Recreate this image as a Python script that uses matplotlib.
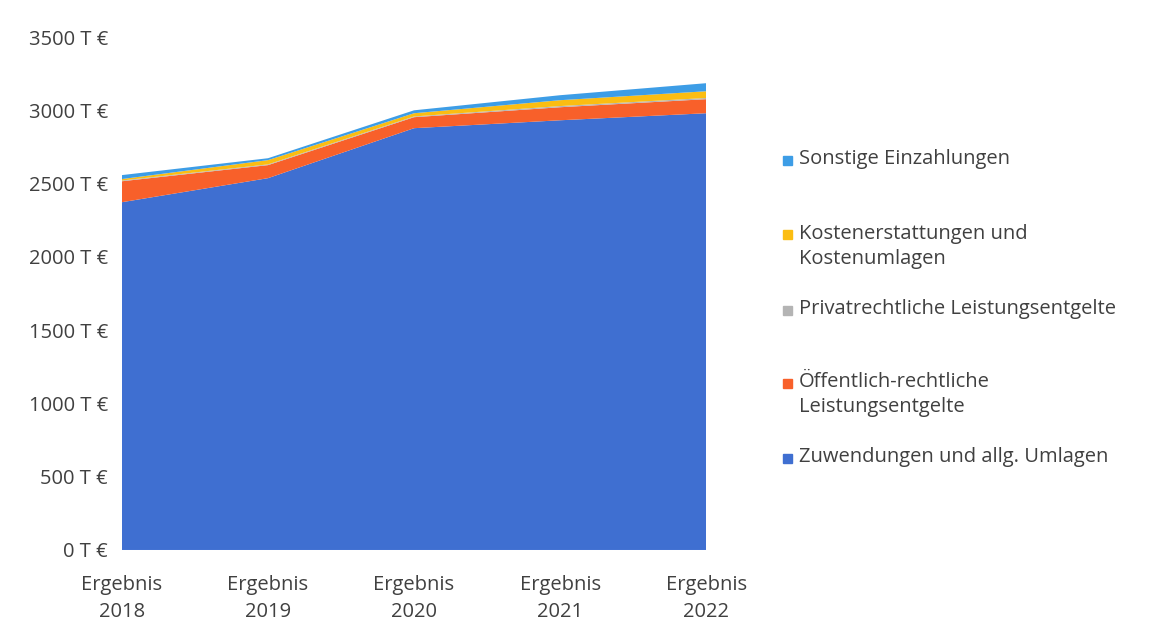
import matplotlib.pyplot as plt
from matplotlib.patches import Rectangle

plt.rcParams['font.family'] = ['Open Sans', 'DejaVu Sans']

years = ['Ergebnis\n2018', 'Ergebnis\n2019', 'Ergebnis\n2020', 'Ergebnis\n2021', 'Ergebnis\n2022']

# values in T EUR (bottom to top of the stack)
zuwendungen = [2373, 2537, 2878, 2932, 2980]
oeffentlich = [143, 89, 75, 89, 96]
privat = [5, 5, 5, 8, 8]
kosten = [10, 29, 22, 40, 46]
sonstige = [27, 13, 20, 34, 55]

labels = ['Zuwendungen und allg. Umlagen',
          'Öffentlich-rechtliche\nLeistungsentgelte',
          'Privatrechtliche Leistungsentgelte',
          'Kostenerstattungen und\nKostenumlagen',
          'Sonstige Einzahlungen']
colors = ['#3f6fd1', '#f8602a', '#b4b4b4', '#fbbd12', '#3d9de6']

yticks = [0, 500, 1000, 1500, 2000, 2500, 3000, 3500]

fig = plt.figure(figsize=(11.66, 6.44), dpi=100)
ax = fig.add_axes([0.1046, 0.146, 0.501, 0.7965])

x = list(range(len(years)))
ax.stackplot(x, zuwendungen, oeffentlich, privat, kosten, sonstige,
             colors=colors, linewidth=0)

ax.set_xlim(0, 4)
ax.set_ylim(0, 3500)
ax.set_yticks(yticks)
ax.set_yticklabels([f'{v} T €' for v in yticks])
ax.set_xticks(x)
ax.set_xticklabels(years, linespacing=1.45)
ax.tick_params(length=0, labelsize=14.5, labelcolor='#404040')
ax.tick_params(axis='y', pad=10)
ax.tick_params(axis='x', pad=18)
for s in ax.spines.values():
    s.set_visible(False)

# legend drawn by hand, top entry first
leg_y = [160, 235, 310, 383, 458]  # pixel rows of the first line
order = [4, 3, 2, 1, 0]
W, H = 1166, 644
for yy, i in zip(leg_y, order):
    fy = 1 - yy / H
    fig.add_artist(Rectangle((783 / W, fy - 4.5 / H), 9 / W, 9 / H,
                             transform=fig.transFigure, color=colors[i]))
    fig.text(799 / W, fy + 11 / H, labels[i], ha='left', va='top',
             fontsize=14.5, color='#404040', linespacing=1.35)

fig.savefig('out.png', dpi=100)
